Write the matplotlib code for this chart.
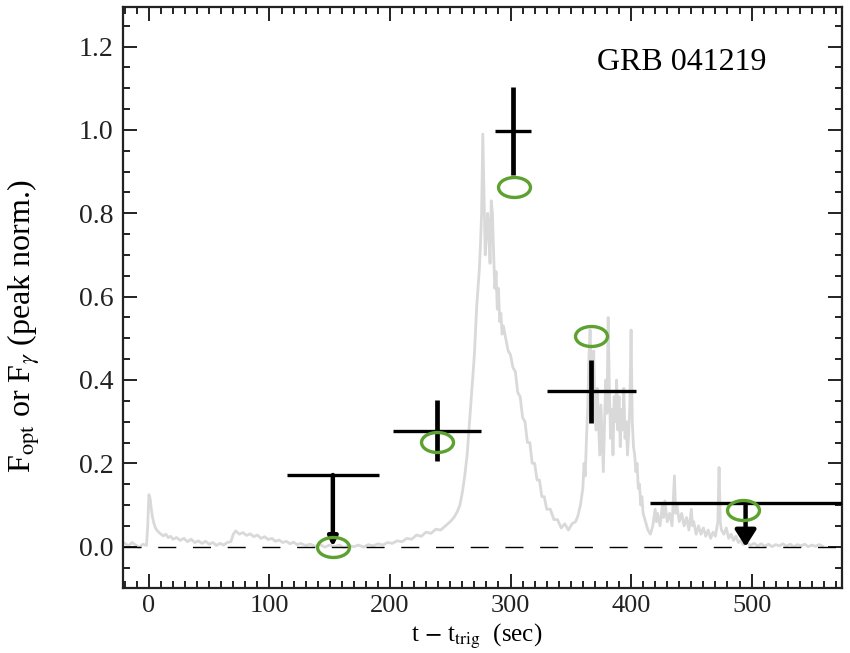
import numpy as np
import matplotlib
matplotlib.use("Agg")
import matplotlib.pyplot as plt
from matplotlib.path import Path
from matplotlib.transforms import Affine2D
from matplotlib.ticker import MultipleLocator, FormatStrFormatter

plt.rcParams["font.family"] = ["Liberation Serif", "DejaVu Serif"]
plt.rcParams["mathtext.fontset"] = "stix"

# gamma-ray light curve (peak normalised)
t_gamma = [-20, -17, -14, -11, -8, -5, -2, -1, 0, 1, 2, 3, 4, 5, 6, 8, 10, 12, 14, 16,
           18, 20, 23, 26, 29, 32, 35, 38, 41, 44, 47, 50, 53, 56, 59, 62, 65, 68, 70, 72,
           75, 78, 81, 84, 87, 90, 93, 96, 99, 102, 105, 108, 111, 114, 117, 120, 123, 126, 130, 134,
           138, 142, 146, 150, 154, 158, 162, 166, 170, 174, 178, 182, 186, 190, 194, 198, 202, 206, 210, 214,
           218, 222, 226, 230, 234, 238, 242, 246, 250, 253, 256, 258, 260, 262, 264, 266, 268, 270, 271, 272,
           273, 274, 275, 276, 277, 278, 279, 280, 281, 282, 283, 284, 285, 286, 287, 288, 289, 290, 291, 292,
           293, 294, 296, 298, 300, 302, 304, 306, 308, 310, 312, 314, 316, 318, 320, 322, 324, 326, 328, 330,
           333, 336, 339, 342, 345, 348, 351, 354, 356, 358, 360, 361, 362, 363, 364, 365, 366, 367, 368, 369,
           370, 371, 372, 373, 374, 375, 376, 377, 378, 379, 380, 381, 382, 383, 384, 385, 386, 387, 388, 389,
           390, 391, 392, 393, 394, 395, 396, 397, 398, 399, 400, 401, 402, 403, 404, 405, 406, 407, 408, 409,
           410, 412, 414, 416, 418, 420, 421, 422, 424, 426, 427, 428, 430, 432, 434, 436, 437, 438, 440, 442,
           444, 446, 448, 450, 451, 452, 454, 456, 458, 460, 462, 464, 466, 468, 470, 472, 473, 474, 475, 477,
           479, 481, 483, 485, 487, 489, 491, 493, 496, 499, 502, 505, 508, 511, 514, 517, 520, 523, 526, 529,
           532, 535, 538, 541, 544, 547, 550, 553, 556, 559]
f_gamma = [0.008, 0.002, 0.010, 0.004, -0.002, 0.006, 0.003, 0.050, 0.125, 0.115, 0.090, 0.070, 0.058, 0.048, 0.042, 0.035, 0.030, 0.026, 0.030, 0.022,
           0.025, 0.018, 0.022, 0.015, 0.020, 0.012, 0.018, 0.010, 0.014, 0.008, 0.013, 0.006, 0.010, 0.003, 0.008, 0.004, 0.010, 0.012, 0.030, 0.038,
           0.030, 0.034, 0.027, 0.031, 0.024, 0.028, 0.020, 0.024, 0.017, 0.020, 0.013, 0.016, 0.010, 0.013, 0.007, 0.011, 0.005, 0.008, 0.003, 0.006,
           0.001, 0.005, -0.001, 0.004, 0.000, 0.004, -0.002, 0.003, 0.000, 0.004, -0.001, 0.005, 0.002, 0.007, 0.004, 0.010, 0.008, 0.014, 0.012, 0.020,
           0.018, 0.028, 0.025, 0.035, 0.032, 0.042, 0.040, 0.050, 0.060, 0.070, 0.085, 0.100, 0.130, 0.170, 0.220, 0.300, 0.380, 0.460, 0.520, 0.580,
           0.620, 0.660, 0.720, 0.800, 0.990, 0.850, 0.700, 0.740, 0.800, 0.760, 0.680, 0.830, 0.800, 0.700, 0.620, 0.660, 0.570, 0.620, 0.540, 0.560,
           0.510, 0.530, 0.500, 0.470, 0.460, 0.430, 0.420, 0.370, 0.360, 0.310, 0.300, 0.250, 0.250, 0.200, 0.200, 0.160, 0.160, 0.120, 0.120, 0.090,
           0.090, 0.065, 0.065, 0.045, 0.055, 0.040, 0.055, 0.060, 0.075, 0.100, 0.140, 0.200, 0.170, 0.260, 0.330, 0.450, 0.520, 0.420, 0.370, 0.470,
           0.330, 0.280, 0.380, 0.300, 0.220, 0.340, 0.260, 0.180, 0.300, 0.400, 0.320, 0.550, 0.380, 0.260, 0.330, 0.220, 0.360, 0.300, 0.400, 0.280,
           0.360, 0.240, 0.330, 0.280, 0.380, 0.260, 0.300, 0.220, 0.270, 0.340, 0.520, 0.300, 0.240, 0.220, 0.180, 0.200, 0.140, 0.150, 0.100, 0.120,
           0.080, 0.060, 0.040, 0.030, 0.050, 0.090, 0.060, 0.080, 0.050, 0.100, 0.070, 0.110, 0.060, 0.080, 0.050, 0.170, 0.080, 0.100, 0.060, 0.080,
           0.050, 0.070, 0.040, 0.090, 0.050, 0.060, 0.030, 0.050, 0.030, 0.045, 0.025, 0.040, 0.020, 0.035, 0.025, 0.060, 0.190, 0.060, 0.040, 0.030,
           0.045, 0.020, 0.030, 0.015, 0.025, 0.010, 0.015, 0.005, 0.010, 0.003, 0.008, 0.002, 0.007, 0.001, 0.006, 0.000, 0.005, 0.002, 0.007, 0.001,
           0.006, 0.000, 0.005, 0.002, 0.006, 0.000, 0.004, 0.001, 0.005, 0.001]

# optical detections
opt_t = [239, 302, 367]
opt_f = [0.278, 0.998, 0.373]
opt_terr = [36.5, 15, 36.7]
opt_ferr = [0.073, 0.105, 0.075]

# optical upper limits
lim_t = [152.6, 495]
lim_f = [0.172, 0.105]
lim_terr_lo = [38, 79]
lim_terr_hi = [38, 90]

# model points (green circles)
mod_t = [152.6, 239, 303, 367, 493]
mod_f = [0.0, 0.252, 0.864, 0.506, 0.088]

fig = plt.figure(figsize=(8.5, 6.53), dpi=100)
ax = fig.add_axes([0.1447, 0.0996, 0.8459, 0.8897])

ax.plot(t_gamma, f_gamma, color="#d9d9d9", lw=2.0, zorder=1)
ax.axhline(0, color="k", lw=1.0, ls=(0, (13, 12)), zorder=2)

# detections: horizontal and vertical arms drawn separately (vertical ones look heavier)
ax.errorbar(opt_t, opt_f, xerr=opt_terr, fmt="none", ecolor="k", elinewidth=2.4, capsize=0, zorder=3)
ax.errorbar(opt_t, opt_f, yerr=opt_ferr, fmt="none", ecolor="k", elinewidth=3.4, capsize=0, zorder=3)

# upper limits
ax.errorbar(lim_t, lim_f, xerr=[lim_terr_lo, lim_terr_hi], fmt="none", ecolor="k",
            elinewidth=2.4, capsize=0, zorder=3)
head_styles = ["-|>,head_length=0.3,head_width=0.15", "-|>,head_length=0.55,head_width=0.35"]
for t, f, hs in zip(lim_t, lim_f, head_styles):
    ax.annotate("", xy=(t, 0.0), xytext=(t, f),
                arrowprops=dict(arrowstyle=hs, color="k", lw=3.2, mutation_scale=18,
                                shrinkA=0, shrinkB=0), zorder=3)

ellipse = Path.unit_circle().transformed(Affine2D().scale(1.6, 1.0))
ax.plot(mod_t, mod_f, ls="none", marker=ellipse, ms=23, mfc="none", mec="#5da130",
        mew=2.4, zorder=4)

ax.text(372, 1.144, "GRB 041219", fontsize=23, ha="left", va="baseline")

ax.set_xlim(-21.5, 575)
ax.set_ylim(-0.099, 1.295)
ax.xaxis.set_major_locator(MultipleLocator(100))
ax.xaxis.set_minor_locator(MultipleLocator(10))
ax.yaxis.set_major_locator(MultipleLocator(0.2))
ax.yaxis.set_minor_locator(MultipleLocator(0.05))
ax.yaxis.set_major_formatter(FormatStrFormatter("%.1f"))
ax.tick_params(which="both", direction="in", top=True, right=True, width=1.4, colors="#222222")
ax.tick_params(which="major", length=10, labelsize=20, pad=7)
ax.tick_params(axis="x", which="major", labelsize=19, pad=5)
ax.tick_params(which="minor", length=5)
for s in ax.spines.values():
    s.set_linewidth(1.6)
    s.set_color("#222222")

ax.set_xlabel("t $-$ t$_{\\mathrm{trig}}$  (sec)", fontsize=18)
ax.set_ylabel("F$_{\\mathrm{opt}}$ or F$_{\\gamma}$ (peak norm.)", fontsize=23)
ax.xaxis.set_label_coords(0.492, -0.058)
ax.yaxis.set_label_coords(-0.112, 0.45)

fig.savefig("out.png", dpi=100)
